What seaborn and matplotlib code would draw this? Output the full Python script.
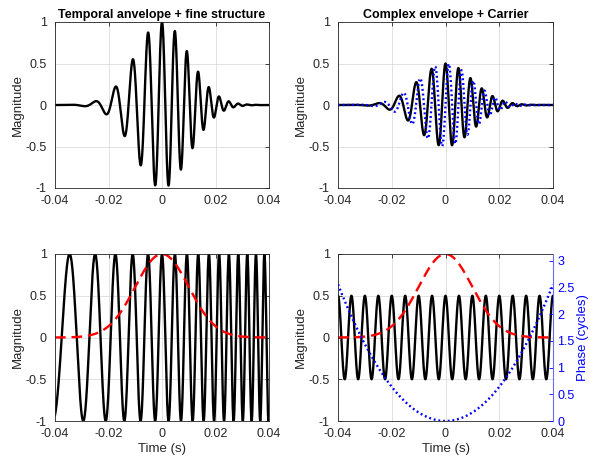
import numpy as np
import pandas as pd
import matplotlib
matplotlib.use("Agg")
import matplotlib.pyplot as plt
import seaborn as sns

# Signal parameters
carrier_hz = 200.0            # carrier frequency (Hz)
chirp_cycles_per_s2 = 1600.0  # quadratic phase coefficient (cycles / s^2)
env_sigma = 0.01              # Gaussian envelope width (s)
t_limits = [-0.04, 0.04]
x_ticks = [-0.04, -0.02, 0, 0.02, 0.04]
y_ticks = [-1, -0.5, 0, 0.5, 1]
phase_ticks = [0, 0.5, 1, 1.5, 2, 2.5, 3]
titles = ["Temporal anvelope + fine structure", "Complex envelope + Carrier"]

t = np.linspace(t_limits[0], t_limits[1], 4001)
envelope = np.exp(-t**2 / (2 * env_sigma**2))
phase_cycles = chirp_cycles_per_s2 * t**2
fine = np.cos(2 * np.pi * (carrier_hz * t + phase_cycles))
signal = envelope * fine
cenv_re = 0.5 * signal
cenv_im = 0.5 * envelope * np.sin(2 * np.pi * (carrier_hz * t + phase_cycles))
carrier = 0.5 * np.cos(2 * np.pi * carrier_hz * t)

df = pd.DataFrame(dict(t=t, envelope=envelope, phase=phase_cycles, fine=fine,
                       signal=signal, re=cenv_re, im=cenv_im, carrier=carrier))

sns.set_theme(style="white")
plt.rcParams["font.family"] = ["Liberation Sans", "DejaVu Sans"]
axc = "#262626"
plt.rcParams.update({
    "axes.edgecolor": axc, "xtick.color": axc, "ytick.color": axc,
    "axes.labelcolor": axc, "text.color": "black",
    "xtick.direction": "in", "ytick.direction": "in",
    "xtick.major.size": 3, "ytick.major.size": 3,
    "xtick.major.width": 0.6, "ytick.major.width": 0.6,
})

W, H = 590, 459
fig = plt.figure(figsize=(W / 100, H / 100), dpi=100)


def make_ax(left, top, right, bottom):
    return fig.add_axes([left / W, 1 - bottom / H, (right - left) / W, (bottom - top) / H])


ax_tl = make_ax(55, 22, 269, 188)
ax_tr = make_ax(338, 22, 553, 188)
ax_bl = make_ax(55, 254, 269, 421)
ax_br = make_ax(338, 254, 553, 421)

lw = 1.7
dash = (0, (4.5, 2.5))
dots = (0, (0.8, 1.2))
sns.lineplot(data=df, x="t", y="signal", ax=ax_tl, color="black", lw=lw)
sns.lineplot(data=df, x="t", y="re", ax=ax_tr, color="black", lw=lw)
sns.lineplot(data=df, x="t", y="im", ax=ax_tr, color="blue", lw=lw, linestyle=dots)
sns.lineplot(data=df, x="t", y="fine", ax=ax_bl, color="black", lw=lw)
sns.lineplot(data=df, x="t", y="envelope", ax=ax_bl, color="red", lw=lw, linestyle=dash)
sns.lineplot(data=df, x="t", y="carrier", ax=ax_br, color="black", lw=lw)
sns.lineplot(data=df, x="t", y="envelope", ax=ax_br, color="red", lw=lw, linestyle=dash)

ax_ph = ax_br.twinx()
ax_ph.set_position(ax_br.get_position())
sns.lineplot(data=df, x="t", y="phase", ax=ax_ph, color="blue", lw=lw, linestyle=dots)
ax_ph.set_ylim(0, 3.13)
ax_ph.set_yticks(phase_ticks)
ax_ph.set_yticklabels([f"{v:g}" for v in phase_ticks])
ax_ph.tick_params(axis="y", colors="blue", labelsize=9, direction="in", length=3, pad=3)
ax_ph.set_ylabel("Phase (cycles)", color="blue", fontsize=9.5, labelpad=1.5)
ax_ph.spines["right"].set_color("#6a6aff")
ax_ph.spines["left"].set_visible(False)
ax_ph.spines["top"].set_visible(False)
ax_ph.spines["bottom"].set_visible(False)
ax_ph.set_xlabel("")

for i, ax in enumerate([ax_tl, ax_tr, ax_bl, ax_br]):
    ax.set_xlim(*t_limits)
    ax.set_ylim(-1, 1)
    ax.set_xticks(x_ticks)
    ax.set_xticklabels([f"{v:g}" for v in x_ticks])
    ax.set_yticks(y_ticks)
    ax.set_yticklabels([f"{v:g}" for v in y_ticks])
    ax.grid(True, color="#dcdcdc", lw=0.6)
    ax.set_axisbelow(True)
    ax.tick_params(labelsize=9, top=True, right=(ax is not ax_br))
    ax.tick_params(axis="x", pad=5)
    ax.tick_params(axis="y", pad=6)
    for s in ax.spines.values():
        s.set_linewidth(0.6)
    ax.set_ylabel("Magnitude", fontsize=9.5, labelpad=1)
    if i < 2:
        ax.set_title(titles[i], fontsize=9, fontweight="bold", pad=3)
        ax.set_xlabel("")
    else:
        ax.set_xlabel("Time (s)", fontsize=9.5, labelpad=2)
ax_br.spines["right"].set_visible(False)
ax_ph.spines["right"].set_linewidth(0.8)

fig.savefig("out.png", dpi=100, facecolor="white")
